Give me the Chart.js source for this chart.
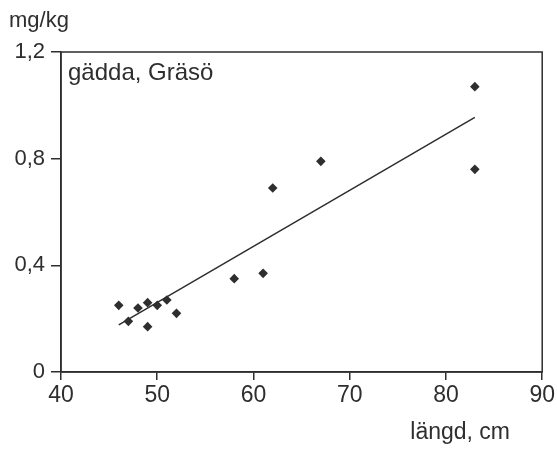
<!DOCTYPE html>
<html>
<head>
<meta charset="utf-8">
<script src="https://cdn.jsdelivr.net/npm/chart.js@4/dist/chart.umd.min.js"></script>
<style>
html,body{margin:0;padding:0;background:#fff;}
#wrap{width:557px;height:449px;position:relative;}
</style>
</head>
<body>
<div id="wrap"><canvas id="c" width="557" height="449"></canvas></div>
<script>
// Data
const lengthCm = [46, 47, 48, 49, 49, 50, 51, 52, 58, 61, 62, 67, 83, 83];
const mercury  = [0.25, 0.19, 0.24, 0.26, 0.17, 0.25, 0.27, 0.22, 0.35, 0.37, 0.69, 0.79, 1.07, 0.76];
const xTicks = [40, 50, 60, 70, 80, 90];
const yTicks = [0, 0.4, 0.8, 1.2];
const yLabel = 'mg/kg';
const xLabel = 'längd, cm';
const panelLabel = 'gädda, Gräsö';

// least-squares trend line
const n = lengthCm.length;
const mx = lengthCm.reduce((a,b)=>a+b,0)/n;
const my = mercury.reduce((a,b)=>a+b,0)/n;
let sxy=0,sxx=0;
for(let i=0;i<n;i++){sxy+=(lengthCm[i]-mx)*(mercury[i]-my);sxx+=(lengthCm[i]-mx)**2;}
const slope=sxy/sxx, icpt=my-slope*mx;
const xmin=Math.min(...lengthCm), xmax=Math.max(...lengthCm);
const trend=[{x:xmin,y:icpt+slope*xmin},{x:xmax,y:icpt+slope*xmax}];

const pts = lengthCm.map((x,i)=>({x:x,y:mercury[i]}));
const FONT = "'Liberation Sans', Arial, sans-serif";
const INK = '#2e2e2e';

const frame = {
  id:'frame',
  afterDraw(chart){
    const {ctx, chartArea:a} = chart;
    ctx.save();
    ctx.strokeStyle = INK; ctx.lineWidth = 1.5;
    ctx.strokeRect(a.left, a.top, a.right-a.left, a.bottom-a.top);
    ctx.fillStyle = INK;
    ctx.textBaseline = 'alphabetic';
    ctx.textAlign = 'left';
    ctx.font = "22px " + FONT;
    ctx.fillText(yLabel, 9, 27);
    ctx.font = "24px " + FONT;
    ctx.fillText(panelLabel, 68, 80);
    ctx.textAlign = 'right';
    ctx.font = "23px " + FONT;
    ctx.fillText(xLabel, 510, 439);
    ctx.restore();
  }
};

new Chart(document.getElementById('c'), {
  type:'scatter',
  data:{datasets:[
    {data:pts, backgroundColor:INK, borderColor:INK, pointStyle:'rectRot', pointRadius:4.8, pointHoverRadius:4.8, borderWidth:0},
    {data:trend, showLine:true, borderColor:INK, borderWidth:1.5, pointRadius:0, fill:false}
  ]},
  options:{
    responsive:false, animation:false, devicePixelRatio:1,
    layout:{padding:{top:52, right:13, left:0, bottom:0}},
    plugins:{legend:{display:false}, tooltip:{enabled:false}},
    scales:{
      x:{type:'linear', min:40, max:90,
        afterBuildTicks(s){s.ticks = xTicks.map(v=>({value:v}));},
        afterFit(s){s.height = 77;},
        grid:{drawOnChartArea:false, drawTicks:true, tickLength:8, color:INK, lineWidth:1.5},
        border:{display:true, color:INK, width:1.5},
        ticks:{color:INK, font:{family:FONT, size:23}, padding:2, maxRotation:0,
          callback:v=>String(v)}
      },
      y:{type:'linear', min:0, max:1.2,
        afterBuildTicks(s){s.ticks = yTicks.map(v=>({value:v}));},
        afterFit(s){s.width = 61;},
        grid:{drawOnChartArea:false, drawTicks:true, tickLength:10, color:INK, lineWidth:1.5},
        border:{display:true, color:INK, width:1.5},
        ticks:{color:INK, font:{family:FONT, size:22}, padding:6,
          callback:v=> v===0 ? '0' : v.toFixed(1).replace('.',',')}
      }
    }
  },
  plugins:[frame]
});
</script>
</body>
</html>
